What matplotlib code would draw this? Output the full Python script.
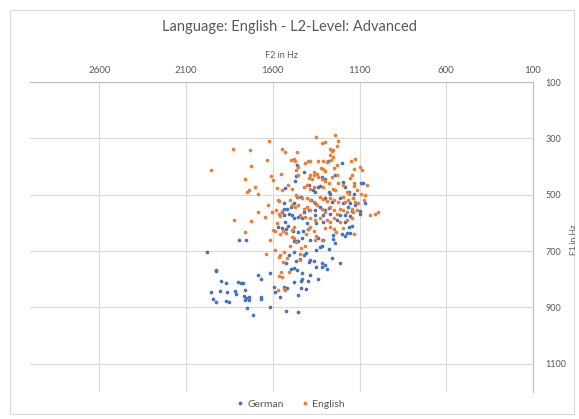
import matplotlib.pyplot as plt
from matplotlib.patches import Rectangle
from matplotlib.lines import Line2D

# F2 / F1 in Hz
german_f2 = [1532, 1534, 1534, 1518, 1547, 1538, 1507, 1532,
             1794, 1754, 1981, 1925, 1925, 1900, 1869, 1955, 1906, 1863, 1946, 1929,
             1869, 1854, 1820, 1814, 1798, 1781, 1771, 1758, 1768, 1754, 1739, 1762,
             1737, 1668, 1668, 1683, 1668, 1618, 1748, 1712, 1618, 1591, 1590, 1557,
             1538, 1518, 1526, 1522, 1570, 1550, 1525, 1510, 1505,
             1484, 1452, 1426, 1400, 1384, 1430, 1342, 1480, 1461, 1452, 1308, 1254,
             1254, 1239, 1202, 1183, 1173, 1154, 1158, 1145, 1327, 1315, 1350, 1275,
             1480, 1407, 1420, 1260, 1210, 1467, 1446, 1392, 1384, 1361, 1319, 1300,
             1350, 1319, 1285, 1495, 1476, 1461, 1430, 1384, 1434, 1438, 1338, 1400,
             1480, 1440, 1406, 1457, 1452,
             1283, 1199, 1461, 1419, 1241, 1465, 1471, 1314, 1302, 1394, 1193, 1183,
             1093, 1081, 1337, 1327, 1371, 1356, 1279, 1269, 1436, 1461, 1139, 1130,
             1158, 1068, 1380, 1356, 1298, 1260, 1212, 1193, 1154, 1126, 1476, 1495,
             1423, 1394, 1356, 1327, 1298, 1279, 1164, 1145, 1097, 1183, 1154, 1097,
             1452, 1432, 1356, 1308, 1269, 1231, 1212, 1480, 1490, 1403, 1350, 1308,
             1183]
german_f1 = [477, 529, 549, 551, 563, 573, 567, 596,
             659, 662, 705, 767, 770, 805, 814, 845, 842, 845, 869, 880,
             877, 880, 843, 852, 808, 814, 814, 839, 860, 865, 864, 873,
             874, 864, 870, 786, 800, 777, 901, 928, 897, 826, 846, 864,
             828, 830, 913, 742, 615, 618, 620, 612, 714,
             627, 632, 628, 620, 661, 653, 653, 664, 664, 664, 661, 643,
             657, 671, 641, 646, 637, 636, 615, 612, 686, 683, 697, 692,
             705, 708, 714, 726, 744, 735, 729, 738, 733, 735, 744, 750,
             758, 756, 765, 764, 761, 767, 777, 786, 799, 806, 798, 805,
             809, 832, 836, 855, 917,
             381, 386, 396, 419, 429, 433, 451, 437, 443, 464, 455, 472,
             457, 460, 472, 470, 484, 490, 490, 497, 508, 508, 511, 496,
             492, 531, 519, 531, 513, 525, 513, 531, 528, 537, 531, 543,
             561, 555, 555, 543, 555, 547, 543, 558, 558, 573, 575, 570,
             579, 584, 573, 573, 570, 590, 573, 584, 573, 602, 602, 598,
             598]

english_f2 = [1620, 1830, 1733, 1547, 1532, 1633, 1728, 1955, 1613, 1553, 1597, 1758,
              1511, 1578, 1702, 1739, 1748, 1683, 1547, 1572, 1564, 1628, 1683, 1603,
              1580, 1647, 1825, 1724, 1564, 1557, 1545, 1576, 1499,
              1758, 1618, 1590, 1560, 1540, 1525, 1600, 1641, 1586, 1566, 1557, 1541,
              1551, 1566, 1547, 1572, 1536, 1528, 1509, 1518, 1538,
              1384, 1400, 1361, 1407, 1350, 1356, 1315, 1492, 1476, 1465, 1499, 1440,
              1415, 1446, 1446, 1298, 1269, 1245, 1233, 1193, 1130, 1480, 1490,
              1239, 1350, 1223, 1314, 1298, 1229, 1269, 1260, 1254, 1269, 1254, 1264,
              1461, 1480, 1472, 1495, 1400, 1384, 1413, 1337, 1308, 1288, 1149, 1126,
              1231, 1250, 1321, 1308, 1298, 1130, 1097, 1084, 1455, 1465, 1457, 1360,
              1346, 1365, 1384, 1394, 1375, 1337, 1315, 1260, 1231, 1154, 1141, 1298,
              1279, 1222, 1193, 1130, 1130, 1058, 1490, 1423, 1403, 1388, 1360, 1308,
              1254, 1241, 1173, 1158, 1117, 1093, 1068, 1465, 1452, 1432, 1403, 1384,
              1365, 1327, 1308, 1288, 1269, 1250, 1222, 1193, 1183, 1164, 1135, 1126,
              1107, 1074, 1039, 1011, 995, 1490, 1471, 1452, 1423, 1403, 1384, 1346,
              1317, 1298, 1269, 1250, 1231, 1212, 1193, 1173, 1145, 1135, 1117, 1442,
              1413, 1384, 1356, 1327, 1288, 1269, 1250, 1212, 1173, 1145]
english_f1 = [308, 336, 340, 336, 348, 377, 397, 411, 432, 426, 448, 445,
              467, 476, 473, 485, 492, 496, 485, 517, 523, 535, 561, 563,
              555, 579, 588, 593, 567, 575, 558, 602, 519,
              634, 659, 630, 640, 628, 636, 625, 712, 696, 720, 714, 740,
              773, 787, 791, 839, 836, 839, 773, 726, 702,
              614, 622, 630, 640, 647, 660, 662, 649, 655, 667, 681, 688,
              681, 712, 732, 618, 614, 620, 634, 618, 641, 614, 626,
              287, 294, 311, 318, 314, 327, 336, 346, 340, 360, 366, 378,
              348, 374, 381, 378, 379, 379, 387, 381, 381, 384, 381, 375,
              396, 405, 405, 410, 417, 407, 402, 413, 402, 413, 431, 419,
              425, 431, 431, 441, 445, 437, 443, 437, 431, 441, 431, 452,
              457, 457, 466, 457, 469, 464, 478, 472, 466, 478, 472, 472,
              478, 484, 490, 496, 484, 496, 502, 502, 508, 513, 513, 519,
              525, 508, 516, 523, 511, 519, 525, 508, 525, 519, 513, 525,
              531, 519, 573, 567, 563, 537, 543, 537, 549, 543, 555, 537,
              549, 563, 543, 555, 567, 549, 555, 563, 549, 563, 555, 573,
              579, 584, 590, 582, 590, 596, 584, 596, 590, 584]

xticks = [2600, 2100, 1600, 1100, 600, 100]
yticks = [100, 300, 500, 700, 900, 1100]

blue = '#4472C4'
orange = '#ED7D31'
grey = '#595959'
plt.rcParams['font.family'] = ['Lato', 'DejaVu Sans']

fig = plt.figure(figsize=(5.79, 4.19), dpi=100)
fig.patches.append(Rectangle((10 / 579, 5 / 419), 564 / 579, 404 / 419, transform=fig.transFigure,
                             fill=False, edgecolor='#D9D9D9', linewidth=0.8))
ax = fig.add_axes([30 / 579, 1 - 392 / 419, 503 / 579, 310 / 419])

ax.scatter(german_f2, german_f1, s=7, color=blue, linewidths=0, zorder=3)
ax.scatter(english_f2, english_f1, s=7, color=orange, linewidths=0, zorder=3)

ax.set_xlim(3000, 100)
ax.set_ylim(1200, 100)
ax.set_xticks(xticks)
ax.set_yticks(yticks)
ax.xaxis.tick_top()
ax.yaxis.tick_right()
ax.xaxis.set_label_position('top')
ax.tick_params(axis='x', length=0, labelsize=7, labelcolor=grey, pad=5)
ax.tick_params(axis='y', length=0, labelsize=6.5, labelcolor=grey, pad=9)
ax.grid(color='#D9D9D9', linewidth=0.8)
ax.set_axisbelow(True)
for s in ['left', 'bottom']:
    ax.spines[s].set_visible(False)
for s in ['top', 'right']:
    ax.spines[s].set_color('#BFBFBF')
    ax.spines[s].set_linewidth(0.8)

ax.set_xlabel('F2 in Hz', fontsize=6.5, color=grey, labelpad=6)
fig.text(574 / 579, 1 - 240 / 419, 'F1 in Hz', rotation=90, ha='center', va='center',
         fontsize=6, color=grey)
fig.text(0.5, 1 - 27 / 419, 'Language: English - L2-Level: Advanced', ha='center', va='center',
         fontsize=10.5, color=grey)

handles = [Line2D([], [], marker='o', linestyle='', markersize=2.8, color=blue, markeredgewidth=0),
           Line2D([], [], marker='o', linestyle='', markersize=2.8, color=orange, markeredgewidth=0)]
leg = fig.legend(handles, ['German', 'English'], loc='center', bbox_to_anchor=(290 / 579, 1 - 404 / 419),
                 ncol=2, frameon=False, fontsize=7.5, handletextpad=0.2, columnspacing=1.5, handlelength=1)
for t in leg.get_texts():
    t.set_color(grey)

fig.savefig('out.png', dpi=100)
